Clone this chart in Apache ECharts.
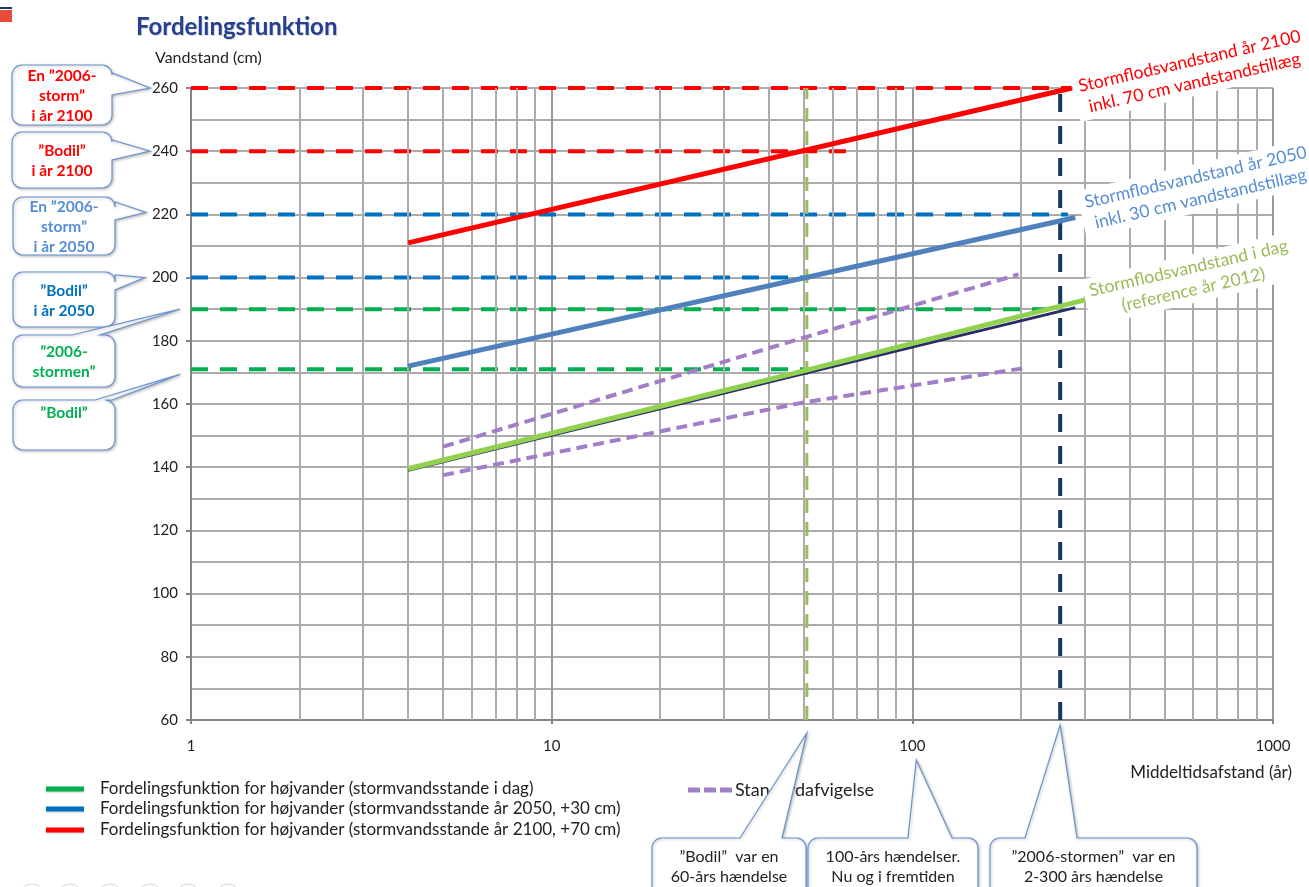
<!DOCTYPE html>
<html>
<head>
<meta charset="utf-8">
<script src="https://cdn.jsdelivr.net/npm/echarts@6/dist/echarts.min.js"></script>
<style>
html,body{margin:0;padding:0;background:#fff;}
#c{width:1309px;height:887px;}
</style>
</head>
<body>
<div id="c"></div>
<script>
// ---------- DATA ----------
const titleText = 'Fordelingsfunktion';
const yName = 'Vandstand (cm)';
const xName = 'Middeltidsafstand (år)';
const xMin = 1, xMax = 1000;
const yMin = 60, yMax = 260, yInterval = 20;
const minorGridX = [2,3,4,5,6,7,8,9,20,30,40,50,60,70,80,90,200,300,400,500,600,700,800,900];

// return period (år) , water level (cm)
const today      = [[4,139.5],[50,170.5],[315,193.5]];
const todayDark  = [[4,139],[100,178],[283,190.5]];
const level2050  = [[4,172],[283,219]];
const level2100  = [[4,211],[277,260]];
const sdUpper    = [[5,146.5],[50,181],[197,201]];
const sdLower    = [[5,137.5],[50,160.5],[208,171.5]];

const ref2100Storm = [[1,260],[270,260]];
const ref2100Bodil = [[1,240],[70,240]];
const ref2050Storm = [[1,220],[270,220]];
const ref2050Bodil = [[1,200],[52,200]];
const refTodayStorm = [[1,190],[260,190]];
const refTodayBodil = [[1,171],[51,171]];

const bodilReturn = 51;
const stormReturn = 257;
const vertBodil = [[bodilReturn,60],[bodilReturn,260]];
const vertStorm = [[stormReturn,60],[stormReturn,260]];

const legendLabels = [
  'Fordelingsfunktion for højvander (stormvandsstande i dag)',
  'Fordelingsfunktion for højvander (stormvandsstande år 2050, +30 cm)',
  'Fordelingsfunktion for højvander (stormvandsstande år 2100, +70 cm)'
];
const sdLabel = 'Standardafvigelse';
const leftCallouts = [
  'En \u201d2006-\nstorm\u201d\ni år 2100',
  '\u201dBodil\u201d\ni år 2100',
  'En \u201d2006-\nstorm\u201d\ni år 2050',
  '\u201dBodil\u201d\ni år 2050',
  '\u201d2006-\nstormen\u201d',
  '\u201dBodil\u201d'
];
const leftCalloutLevels = [260, 240, 220, 200, 190, 170];
const bottomCallouts = [
  '\u201dBodil\u201d  var en\n60-års hændelse',
  '100-års hændelser.\nNu og i fremtiden',
  '\u201d2006-stormen\u201d  var en\n2-300 års hændelse'
];
const bottomCalloutReturns = [bodilReturn, 100, stormReturn];
const rightLabels = [
  'Stormflodsvandstand år 2100\ninkl. 70 cm vandstandstillæg',
  'Stormflodsvandstand år 2050\ninkl. 30 cm vandstandstillæg',
  'Stormflodsvandstand i dag\n(reference år 2012)'
];

// ---------- CHART ----------
const FONT = 'Lato, "Open Sans", sans-serif';
const chart = echarts.init(document.getElementById('c'), null, {renderer:'canvas'});

function ls(name, data, color, width, dash, z) {
  return {name, type:'line', data, symbol:'none', silent:true, z: z, animation:false,
    lineStyle:{color, width, type: dash || 'solid', cap:'butt'}, emphasis:{disabled:true}};
}

const gridColor = '#ababab';
const option = {
  animation:false,
  backgroundColor:'#ffffff',
  grid:{left:191, right:36, top:88, bottom:167, containLabel:false},
  xAxis:{
    type:'log', logBase:10, min:xMin, max:xMax,
    axisLine:{show:true, lineStyle:{color:'#858585', width:2}},
    axisTick:{show:true, length:4, lineStyle:{color:'#858585', width:2}},
    axisLabel:{color:'#222', fontSize:15, fontFamily:FONT, margin:19, formatter: v => String(Math.round(v))},
    splitLine:{show:true, lineStyle:{color:'#9a9a9a', width:2}}
  },
  yAxis:{
    type:'value', min:yMin, max:yMax, interval:yInterval,
    axisLine:{show:true, lineStyle:{color:'#858585', width:2}},
    axisTick:{show:true, length:5, lineStyle:{color:'#858585', width:2}},
    axisLabel:{color:'#222', fontSize:15, fontFamily:FONT, margin:13},
    minorTick:{show:false, splitNumber:2},
    splitLine:{show:true, lineStyle:{color:gridColor, width:2}},
    minorSplitLine:{show:true, lineStyle:{color:gridColor, width:2}}
  },
  series:[
    {type:'line', data:[[1,60]], symbol:'none', silent:true, z:1, lineStyle:{opacity:0},
     markLine:{silent:true, symbol:['none','none'], label:{show:false}, animation:false,
       lineStyle:{type:'solid', color:gridColor, width:2}, emphasis:{disabled:true},
       data: minorGridX.map(v => ({xAxis:v}))}},
    ls('ref2100Storm', ref2100Storm, '#FF0000', 4, [17,12], 3),
    ls('ref2100Bodil', ref2100Bodil, '#FF0000', 4, [17,12], 3),
    ls('ref2050Storm', ref2050Storm, '#0070C0', 4, [17,12], 3),
    ls('ref2050Bodil', ref2050Bodil, '#0070C0', 4, [17,12], 3),
    ls('refTodayStorm', refTodayStorm, '#00B050', 4, [17,12], 3),
    ls('refTodayBodil', refTodayBodil, '#00B050', 4, [17,12], 3),
    ls('vertBodil', vertBodil, '#9BBB59', 3, [14,9], 4),
    ls('vertStorm', vertStorm, '#17375E', 4, [18,14], 4),
    ls('sdUpper', sdUpper, '#A27EC8', 4, [11,6], 5),
    ls('sdLower', sdLower, '#A27EC8', 4, [11,6], 5),
    ls('todayDark', todayDark, '#2B2A6B', 3, null, 5),
    ls('today', today, '#92D050', 5, null, 6),
    ls('level2050', level2050, '#4F81BD', 5, null, 6),
    ls('level2100', level2100, '#FF0000', 5, null, 6)
  ]
};
chart.setOption(option);

// ---------- ANNOTATIONS ----------
const py = v => chart.convertToPixel({yAxisIndex:0}, v);
const pxv = v => chart.convertToPixel({xAxisIndex:0}, v);

function calloutPoints(x, y, w, h, r, ptr) {
  const pts = [];
  const arc = (cx, cy, a0, a1) => {
    for (let i = 0; i <= 6; i++) {
      const a = a0 + (a1 - a0) * i / 6;
      pts.push([cx + r * Math.cos(a), cy + r * Math.sin(a)]);
    }
  };
  arc(x + r, y + r, Math.PI, 1.5 * Math.PI);
  if (ptr.side === 'top') pts.push([ptr.a, y], ptr.tip, [ptr.b, y]);
  arc(x + w - r, y + r, 1.5 * Math.PI, 2 * Math.PI);
  if (ptr.side === 'right') pts.push([x + w, ptr.a], ptr.tip, [x + w, ptr.b]);
  arc(x + w - r, y + h - r, 0, 0.5 * Math.PI);
  arc(x + r, y + h - r, 0.5 * Math.PI, Math.PI);
  return pts;
}
const boxStyle = {fill:'#fff', stroke:'#6B93CF', lineWidth:1.2,
  shadowBlur:3, shadowColor:'rgba(0,0,0,0.25)', shadowOffsetX:1, shadowOffsetY:1};

function txt(x, y, text, opts) {
  return Object.assign({type:'text', x, y, z: opts.z || 30, silent:true,
    style:{text, fill: opts.fill || '#222', fontSize: opts.size || 14,
      fontWeight: opts.weight || 'normal', fontFamily: FONT,
      align: opts.align || 'left', textAlign: opts.align || 'left',
      verticalAlign: 'middle', textVerticalAlign:'middle',
      lineHeight: opts.lh || 20,
      backgroundColor: opts.bg, padding: opts.pad}}, opts.rot ? {rotation: opts.rot} : {});
}

const g = [];
// top-left marks
g.push({type:'rect', shape:{x:0, y:10, width:12, height:12}, style:{fill:'#E84C3D'}, z:10});
g.push({type:'rect', shape:{x:0, y:7, width:12, height:2}, style:{fill:'#1F3864'}, z:10});
// title
g.push(txt(136, 27, titleText, {fill:'#25408F', size:24, weight:'bold', z:10}));
g.push(txt(137, 28, titleText, {fill:'rgba(0,0,0,0.15)', size:24, weight:'bold', z:9}));
// y-axis name and x-axis name
g.push(txt(155, 58, yName, {fill:'#222', size:16, z:10}));
g.push(txt(1292, 773, xName, {fill:'#222', size:17, align:'right', z:10}));

// left callouts
const leftBoxes = [
  {x:12, y:65, w:100, h:60, color:'#FF0000', ptr:{side:'right', a:73, b:95}, tx:150, ty:0},
  {x:12, y:132, w:100, h:56, color:'#FF0000', ptr:{side:'right', a:140, b:160}, tx:150, ty:0},
  {x:13, y:197, w:102, h:58, color:'#558ED5', ptr:{side:'right', a:202, b:220}, tx:146, ty:-2},
  {x:13, y:272, w:102, h:55, color:'#0070C0', ptr:{side:'right', a:275, b:290}, tx:145, ty:0},
  {x:13, y:335, w:102, h:52, color:'#00B050', ptr:{side:'top', a:72, b:100}, tx:180, ty:0},
  {x:13, y:400, w:102, h:50, color:'#00B050', ptr:{side:'top', a:95, b:112}, tx:180, ty:2}
];
leftBoxes.forEach((b, i) => {
  const tip = [b.tx, py(leftCalloutLevels[i]) + b.ty];
  const p = Object.assign({}, b.ptr, {tip});
  g.push({type:'polygon', z:20, silent:true, shape:{points:calloutPoints(b.x, b.y, b.w, b.h, 10, p)}, style:boxStyle});
  const cy = (i === 5) ? 413 : b.y + b.h / 2 + 1;
  g.push(txt(b.x + b.w / 2, cy, leftCallouts[i], {fill:b.color, size:15.5, weight:'bold', align:'center', lh:20, z:21}));
});

// legend
const legendColors = ['#00B050', '#0070C0', '#FF0000'];
const legendY = [789, 809, 830];
legendLabels.forEach((t, i) => {
  g.push({type:'line', z:10, silent:true, shape:{x1:46, y1:legendY[i], x2:84, y2:legendY[i]},
    style:{stroke:legendColors[i], lineWidth:5, shadowBlur:2, shadowColor:'rgba(0,0,0,0.2)', shadowOffsetY:1}});
  g.push(txt(100, legendY[i], t, {fill:'#222', size:17, z:10}));
});
// standard deviation legend
g.push({type:'line', z:10, silent:true, shape:{x1:688, y1:790, x2:734, y2:790},
  style:{stroke:'#A27EC8', lineWidth:5, lineDash:[12,4]}});
g.push(txt(735, 790, sdLabel, {fill:'#222', size:18, z:10}));

// bottom callouts
const bottomBoxes = [
  {x:652, y:838, w:154, h:70, a:740, b:782, dx:0, tipY:733},
  {x:808, y:838, w:170, h:70, a:908, b:952, dx:4, tipY:760},
  {x:990, y:838, w:207, h:70, a:1025, b:1077, dx:0, tipY:725}
];
bottomBoxes.forEach((b, i) => {
  const tip = [pxv(bottomCalloutReturns[i]) + b.dx, b.tipY];
  g.push({type:'polygon', z:20, silent:true,
    shape:{points:calloutPoints(b.x, b.y, b.w, b.h, 10, {side:'top', a:b.a, b:b.b, tip})}, style:boxStyle});
  g.push(txt(b.x + b.w / 2, 867, bottomCallouts[i], {fill:'#222', size:16, align:'center', lh:20, z:21}));
});

// right rotated labels
const rightPos = [[1192, 72, '#FF0000'], [1198, 188, '#558ED5'], [1191, 279, '#9BBB59']];
rightLabels.forEach((t, i) => {
  g.push(txt(rightPos[i][0], rightPos[i][1], t, {fill:rightPos[i][2], size:17.5, align:'center', lh:22,
    bg:'#ffffff', pad:[2,6], rot:0.225, z:30}));
});

// faint circles at bottom
[32, 70, 110, 150, 188, 228].forEach(cx => {
  g.push({type:'circle', z:5, silent:true, shape:{cx, cy:897, r:13}, style:{fill:'none', stroke:'#d8d8d8', lineWidth:1}});
});

chart.setOption({graphic:{elements:g}});
</script>
</body>
</html>
